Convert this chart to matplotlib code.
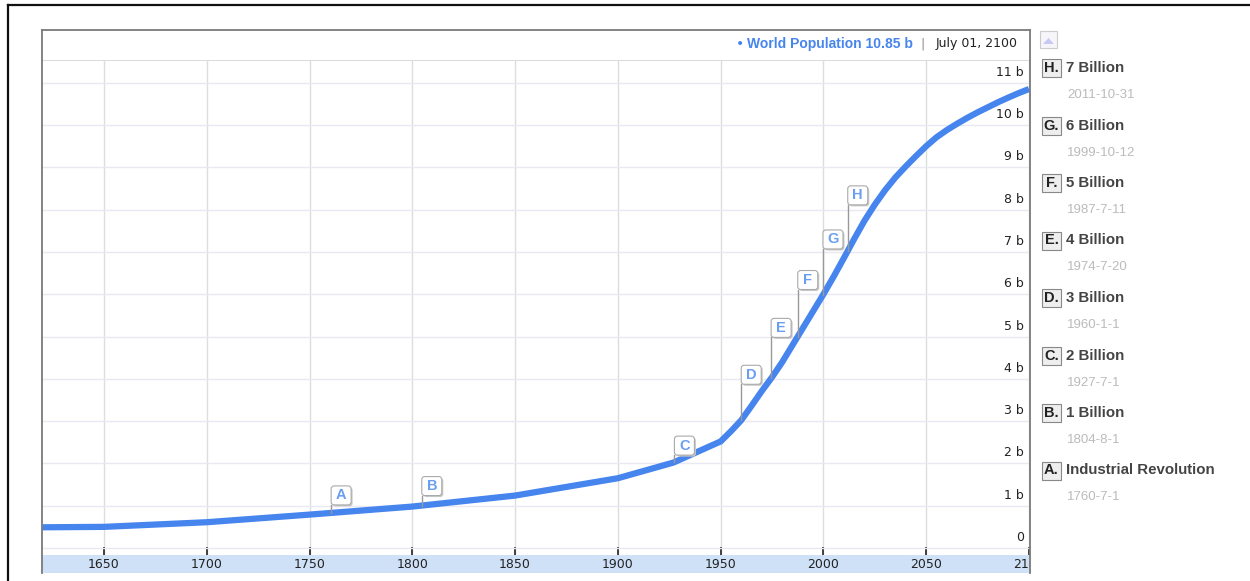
import numpy as np
import matplotlib.pyplot as plt
from matplotlib.patches import Rectangle, FancyBboxPatch, Polygon
from matplotlib.lines import Line2D
from matplotlib.transforms import IdentityTransform, blended_transform_factory, offset_copy

# world population (billions)
years = [1620, 1650, 1700, 1750, 1800, 1850, 1900, 1927, 1950, 1955, 1960, 1965,
         1970, 1975, 1980, 1985, 1990, 1995, 2000, 2005, 2010, 2015, 2020, 2025,
         2030, 2035, 2040, 2045, 2050, 2055, 2060, 2065, 2070, 2075, 2080, 2085,
         2090, 2095, 2100]
population = [0.49, 0.50, 0.61, 0.79, 0.98, 1.24, 1.65, 2.02, 2.52, 2.76, 3.02, 3.36,
              3.71, 4.04, 4.40, 4.80, 5.2, 5.6, 6.0, 6.42, 6.86, 7.31, 7.74, 8.12,
              8.46, 8.76, 9.02, 9.265, 9.5, 9.71, 9.88, 10.03, 10.17, 10.3, 10.42, 10.54,
              10.65, 10.755, 10.85]

x_ticks = [1650, 1700, 1750, 1800, 1850, 1900, 1950, 2000, 2050, 2100]
y_ticks = list(range(0, 12))
y_labels = ['0'] + ['{0} b'.format(v) for v in range(1, 12)]

# annotations
flag_letters = ['A', 'B', 'C', 'D', 'E', 'F', 'G', 'H']
flag_years = [1760.5, 1804.6, 1927.5, 1960.0, 1974.55, 1987.5, 1999.78, 2011.83]
flag_titles = ['Industrial Revolution', '1 Billion', '2 Billion', '3 Billion',
               '4 Billion', '5 Billion', '6 Billion', '7 Billion']
flag_dates = ['1760-7-1', '1804-8-1', '1927-7-1', '1960-1-1',
              '1974-7-20', '1987-7-11', '1999-10-12', '2011-10-31']
pole_px = [8, 10, 7, 36, 41, 47, 46, 46]   # flag heights above the line

header_value = 'World Population 10.85 b'
header_date = 'July 01, 2100'

BLUE = '#4684EE'
W, H = 1250, 581
ID = IdentityTransform()

def P(x, y):
    # image pixel (top-left origin) -> display coords
    return x, H - y

fig = plt.figure(figsize=(W / 100, H / 100), dpi=100)

ax = fig.add_axes([42 / W, 1 - 555 / H, 988 / W, 495 / H])
ax.plot(years, population, color=BLUE, lw=4.5, solid_capstyle='butt',
        solid_joinstyle='round', zorder=3)
ax.set_xlim(1619.84, 2100.49)
ax.set_ylim(-0.165, 11.537)
ax.set_xticks(x_ticks)
ax.set_yticks(y_ticks)
ax.xaxis.grid(True, color='#D9E0D9', lw=1)
ax.yaxis.grid(True, color='#E9E9F3', lw=1)
ax.set_axisbelow(True)
ax.tick_params(axis='x', direction='in', length=6, width=1.3, color='#333',
               labelbottom=False)
ax.tick_params(axis='y', length=0, labelleft=False)
for s in ['left', 'right', 'bottom']:
    ax.spines[s].set_visible(False)
ax.spines['top'].set_color('#DDDDDD')

ytrans = offset_copy(blended_transform_factory(ax.transAxes, ax.transData),
                     fig=fig, x=-6, y=4, units='dots')
for v, lab in zip(y_ticks, y_labels):
    ax.text(1.0, v, lab, transform=ytrans, ha='right', va='bottom',
            fontsize=9, color='#222', family='DejaVu Sans')

# x tick band
bax = fig.add_axes([42 / W, 1 - 573 / H, 988 / W, 18 / H])
bax.set_facecolor('#CFE1F7')
bax.set_xlim(ax.get_xlim())
bax.set_ylim(0, 1)
bax.set_xticks([])
bax.set_yticks([])
for s in bax.spines.values():
    s.set_visible(False)
for yr in x_ticks:
    bax.text(yr, 0.45, str(yr), ha='center', va='center', fontsize=9,
             color='#222', family='DejaVu Sans', clip_on=True)

# flags
for L, yr, pole in zip(flag_letters, flag_years, pole_px):
    v = np.interp(yr, years, population)
    x0, y0 = ax.transData.transform((yr, v))
    fig.add_artist(Line2D([x0, x0], [y0, y0 + pole], transform=ID,
                          color='#999999', lw=1, zorder=5))
    fig.add_artist(FancyBboxPatch((x0 + 1.5, y0 + pole - 1.5), 20, 19,
                                  boxstyle='round,pad=0,rounding_size=3',
                                  transform=ID, fc='#C8C8C8', ec='none', zorder=5))
    fig.add_artist(FancyBboxPatch((x0, y0 + pole), 20, 19,
                                  boxstyle='round,pad=0,rounding_size=3',
                                  transform=ID, fc='white', ec='#AAAAAA', lw=0.8, zorder=6))
    fig.text(x0 + 10, y0 + pole + 9.5, L, transform=ID, ha='center', va='center',
             fontsize=10.5, fontweight='bold', color='#6A9EF0',
             family='Liberation Sans', zorder=7)

# header
fig.text(*P(740, 44), '\u2022', transform=ID, ha='center', va='center',
         fontsize=10, color=BLUE, family='DejaVu Sans')
fig.text(*P(747, 44), header_value, transform=ID, ha='left', va='center',
         fontsize=10, fontweight='bold', color=BLUE, family='Liberation Sans')
fig.text(*P(922, 44), '|', transform=ID, ha='center', va='center',
         fontsize=9, color='#888888', family='DejaVu Sans')
fig.text(*P(1018, 44), header_date, transform=ID, ha='right', va='center',
         fontsize=9, color='#222', family='DejaVu Sans')

# legend on the right, newest first
for i, (L, title, d) in enumerate(zip(flag_letters[::-1], flag_titles[::-1], flag_dates[::-1])):
    yc = 68 + 57.5 * i
    fig.add_artist(Rectangle(P(1042, yc + 9), 19, 18, transform=ID,
                             fc='#EEEEEE', ec='#888888', lw=0.8))
    fig.text(*P(1051.5, yc), L + '.', transform=ID, ha='center', va='center',
             fontsize=10.5, fontweight='bold', color='#222', family='Liberation Sans')
    fig.text(*P(1066, yc), title, transform=ID, ha='left', va='center',
             fontsize=10.8, fontweight='bold', color='#444444', family='Liberation Sans')
    fig.text(*P(1067, yc + 27), d, transform=ID, ha='left', va='center',
             fontsize=9.5, color='#BBBBBB', family='Liberation Sans')

# scroll button
fig.add_artist(Rectangle(P(1040, 48), 17, 17, transform=ID, fc='#F6F6FA',
                         ec='#CCCCCC', lw=0.8))
fig.add_artist(Polygon([P(1043, 44), P(1054, 44), P(1048.5, 38)], closed=True,
                       transform=ID, fc='#C8C8F4', ec='none'))

# frames
for xs, ys, c, w in [([42, 42], [30, 573], '#7A7A7A', 1.3),
                     ([42, 1030], [30, 30], '#7A7A7A', 1.3),
                     ([1030, 1030], [30, 573], '#7A7A7A', 1.3),
                     ([8, 1250], [5, 5], '#111111', 1.6),
                     ([8, 8], [5, 581], '#111111', 1.6)]:
    fig.add_artist(Line2D(xs, [H - y for y in ys], transform=ID, color=c, lw=w))

fig.savefig('out.png', dpi=100)
